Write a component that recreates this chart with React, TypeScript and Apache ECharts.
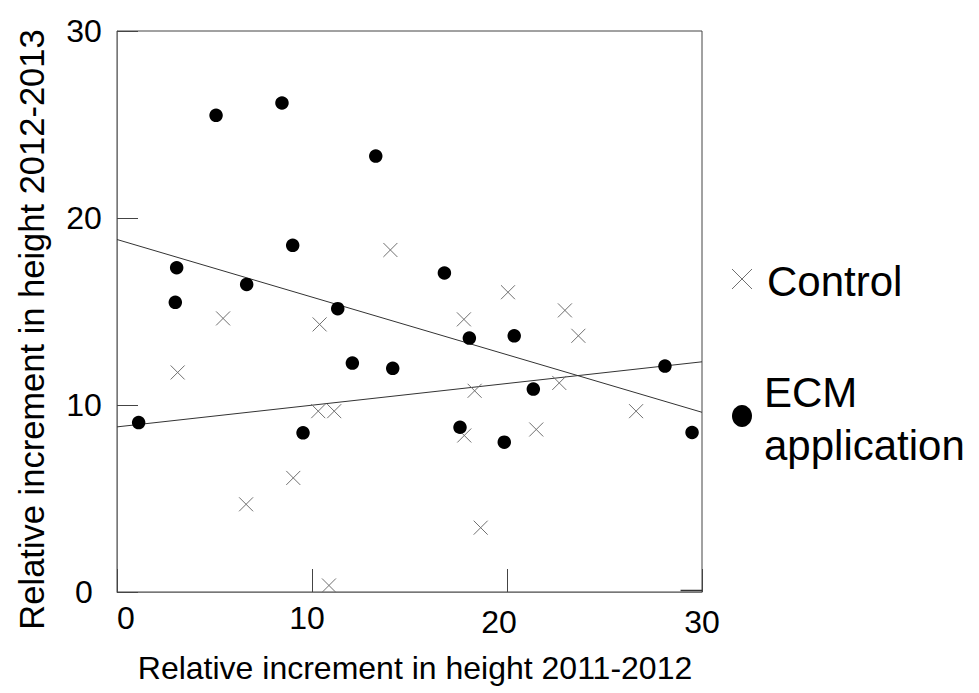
import React, { useEffect, useRef } from "react";
import * as echarts from "echarts";

// ECM application (filled circles)
const ecmX = [1.11, 3.06, 2.99, 5.08, 6.65, 8.46, 9.01, 9.54, 11.32, 12.07, 13.27, 14.14, 16.79, 17.59, 18.07, 20.37, 19.86, 21.35, 28.1, 29.49];
const ecmY = [9.06, 17.34, 15.49, 25.49, 16.45, 26.15, 18.54, 8.51, 15.15, 12.24, 23.31, 11.96, 17.06, 8.81, 13.58, 13.7, 8.01, 10.85, 12.08, 8.53];

// Control (crosses)
const controlX = [3.11, 5.44, 6.62, 9.04, 10.39, 10.32, 11.14, 10.87, 14.02, 17.79, 18.34, 17.81, 18.65, 20.05, 21.5, 22.68, 22.97, 23.66, 26.62];
const controlY = [11.74, 14.63, 4.69, 6.1, 14.31, 9.67, 9.67, 0.35, 18.29, 14.58, 10.76, 8.37, 3.44, 16.03, 8.69, 11.18, 15.06, 13.7, 9.67];

// Fitted lines (x = 0 and x = 30)
const trendX = [0, 30];
const trendEcmY = [18.85, 9.61];
const trendControlY = [8.83, 12.31];

const xTicks = [0, 10, 20, 30];
const yTicks = [0, 10, 20, 30];

const FONT = "'Liberation Sans', Arial, sans-serif";

export default function App() {
  const ref = useRef<HTMLDivElement>(null);
  useEffect(() => {
    if (!ref.current) return;
    const chart = echarts.init(ref.current, null, { renderer: "svg" });
    const crossPath = "path://M0,0L10,10M0,10L10,0";
    const xRich: Record<string, any> = {
      a: { fontSize: 32, fontFamily: FONT, color: "#000", padding: [0, 0, 0, 18] },
      b: { fontSize: 32, fontFamily: FONT, color: "#000", padding: [0, 10, 0, 0] },
      c: { fontSize: 32, fontFamily: FONT, color: "#000", padding: [4, 16, 0, 0] },
      d: { fontSize: 32, fontFamily: FONT, color: "#000", padding: [4, 0, 0, 0] },
    };
    const keys = ["a", "b", "c", "d"];
    chart.setOption({
      animation: false,
      backgroundColor: "#fff",
      grid: {
        left: 117,
        top: 31,
        right: 277,
        bottom: 101,
        show: true,
        borderColor: "#444",
        borderWidth: 1,
      },
      xAxis: {
        type: "value",
        min: 0,
        max: 30,
        interval: 10,
        splitLine: { show: false },
        axisLine: { show: true, lineStyle: { color: "#777", width: 1 } },
        axisTick: { show: true, inside: true, length: 23, lineStyle: { color: "#444" } },
        axisLabel: {
          margin: 10,
          formatter: (v: number) => {
            const i = xTicks.indexOf(v);
            return `{${keys[i]}|${v}}`;
          },
          rich: xRich,
        },
        name: "Relative increment in height 2011-2012",
        nameLocation: "middle",
        nameGap: 60,
        nameTextStyle: { fontSize: 32, fontFamily: FONT, color: "#000", padding: [0, 0, 0, 11] },
      },
      yAxis: {
        type: "value",
        min: 0,
        max: 30,
        interval: 10,
        splitLine: { show: false },
        axisLine: { show: true, lineStyle: { color: "#777", width: 1 } },
        axisTick: { show: true, inside: true, length: 21, lineStyle: { color: "#444" } },
        axisLabel: {
          margin: 33,
          align: "center",
          fontSize: 32,
          fontFamily: FONT,
          color: "#000",
          formatter: (v: number) => (yTicks.includes(v) ? String(v) : ""),
        },
        name: "Relative increment in height 2012-2013",
        nameLocation: "middle",
        nameGap: 68,
        nameTextStyle: { fontSize: 34.5, fontFamily: FONT, color: "#000", padding: [0, 36, 0, 0] },
      },
      series: [
        {
          type: "line",
          data: trendX.map((x, i) => [x, trendEcmY[i]]),
          symbol: "none",
          lineStyle: { color: "#333", width: 1 },
          silent: true,
          z: 1,
        },
        {
          type: "line",
          data: trendX.map((x, i) => [x, trendControlY[i]]),
          symbol: "none",
          lineStyle: { color: "#333", width: 1 },
          silent: true,
          z: 1,
        },
        {
          type: "line",
          data: [[28.9, 0.08], [30, 0.08]],
          symbol: "none",
          lineStyle: { color: "#333", width: 1.5 },
          silent: true,
          z: 1,
        },
        {
          name: "Control",
          type: "scatter",
          data: controlX.map((x, i) => [x, controlY[i]]),
          symbol: crossPath,
          symbolSize: 14,
          itemStyle: { color: "none", borderColor: "#707070", borderWidth: 1, opacity: 1 },
          z: 3,
        },
        {
          name: "ECM application",
          type: "scatter",
          data: ecmX.map((x, i) => [x, ecmY[i]]),
          symbol: "circle",
          symbolSize: 13.5,
          itemStyle: { color: "#000", opacity: 1 },
          z: 4,
        },
      ],
      graphic: [
        { type: "line", shape: { x1: 732, y1: 269, x2: 752, y2: 289 }, style: { stroke: "#707070", lineWidth: 1 } },
        { type: "line", shape: { x1: 732, y1: 289, x2: 752, y2: 269 }, style: { stroke: "#707070", lineWidth: 1 } },
        { type: "ellipse", shape: { cx: 742, cy: 416, rx: 10, ry: 11 }, style: { fill: "#000" } },
        {
          type: "text",
          x: 767,
          y: 281,
          style: { text: "Control", font: `42px ${FONT}`, fill: "#000", verticalAlign: "middle", align: "left" },
        },
        {
          type: "text",
          x: 764,
          y: 419,
          style: {
            text: "ECM\napplication",
            font: `42px ${FONT}`,
            lineHeight: 53,
            fill: "#000",
            verticalAlign: "middle",
            align: "left",
          },
        },
      ],
    });
    return () => chart.dispose();
  }, []);
  return <div ref={ref} style={{ position: "fixed", left: 0, top: 0, width: 979, height: 693 }} />;
}
